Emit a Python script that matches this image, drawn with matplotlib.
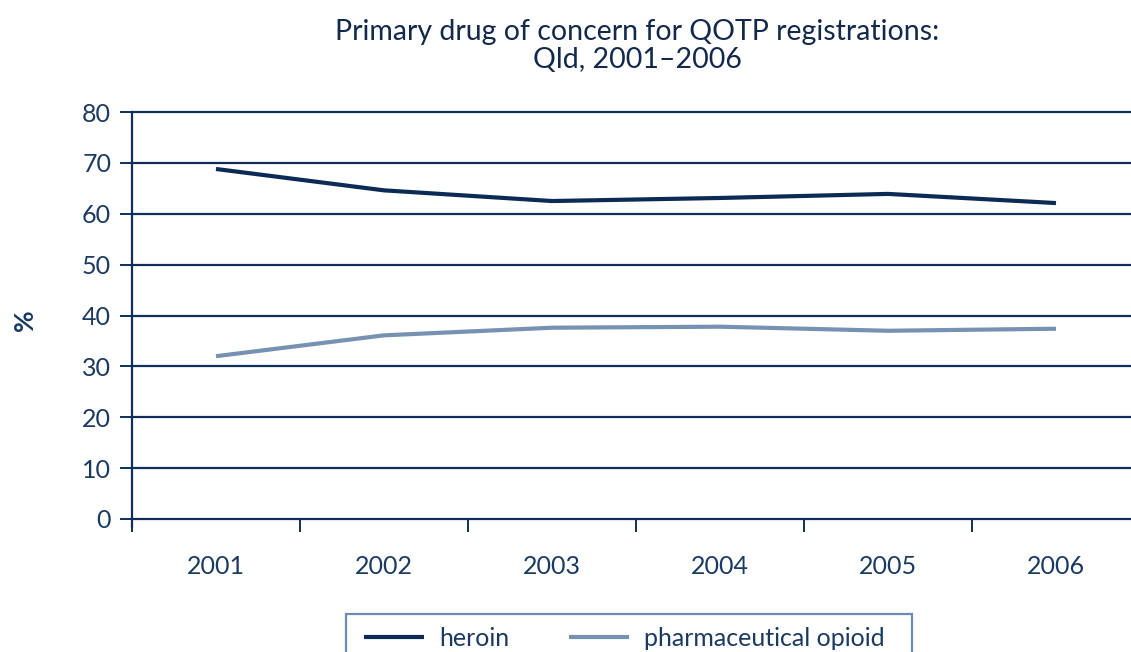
import matplotlib
matplotlib.use("Agg")
import matplotlib.pyplot as plt
from matplotlib.patches import Rectangle
import numpy as np

years = ["2001", "2002", "2003", "2004", "2005", "2006"]
heroin = [68.8, 64.6, 62.5, 63.1, 63.9, 62.1]
pharma = [32.0, 36.1, 37.6, 37.8, 37.0, 37.4]
yticks = [0, 10, 20, 30, 40, 50, 60, 70, 80]

NAVY = "#0f2f5a"
TEXT = "#1a3a62"
PHARMA = "#7791b3"
FONT = ["Lato", "DejaVu Sans"]

W, H = 1131, 652
fig = plt.figure(figsize=(W / 100, H / 100), dpi=100)
left, right, top, bottom = 132, 1140, 112, 519
ax = fig.add_axes([left / W, 1 - bottom / H, (right - left) / W, (bottom - top) / H])

x = np.arange(len(years))
ax.plot(x, heroin, color="#0b2a55", lw=3.0, solid_capstyle="butt", label="heroin", zorder=3)
ax.plot(x, pharma, color=PHARMA, lw=3.0, solid_capstyle="butt", label="pharmaceutical opioid", zorder=3)

ax.set_xlim(-0.5, len(years) - 0.5)
ax.set_ylim(0, 80)
ax.set_yticks(yticks)
ax.set_yticklabels([str(v) for v in yticks], fontsize=18, color=TEXT, family=FONT)
for v in yticks:
    ax.axhline(v, color=NAVY, lw=1.6, zorder=1, clip_on=False)

ax.set_xticks(np.arange(len(years) + 1) - 0.5, minor=False)
ax.set_xticklabels([""] * (len(years) + 1))
ax.set_xticks(x, minor=True)
ax.set_xticklabels(years, minor=True, fontsize=18, color=TEXT, family=FONT)
ax.tick_params(axis="x", which="major", length=9, width=1.4, color=NAVY, direction="out")
ax.tick_params(axis="x", which="minor", length=0, pad=26)
ax.tick_params(axis="y", length=9, width=1.4, color=NAVY, direction="out", pad=6)

for s in ["top", "right", "bottom"]:
    ax.spines[s].set_visible(False)
ax.spines["left"].set_color(NAVY)
ax.spines["left"].set_linewidth(1.6)
ax.spines["left"].set_bounds(-1.6, 80)

fig.text(25 / W, 1 - 320 / H, "%", rotation=90, ha="center", va="center",
         fontsize=19, color=TEXT, family=FONT, fontweight="bold")

fig.text(637 / W, 1 - 46 / H, "Primary drug of concern for QOTP registrations:\nQld, 2001\u20132006",
         ha="center", va="center", fontsize=20.5, color="#13294b", family=FONT, linespacing=1.05)

fig.patches.append(Rectangle((346 / W, -0.05), (912 - 346) / W, 0.05 + (652 - 614) / H,
                             transform=fig.transFigure, fill=False, edgecolor="#6d8bb0",
                             linewidth=1.6, clip_on=False))
leg = fig.legend(loc="center left", bbox_to_anchor=(364 / W, 1 - 638 / H), ncol=2,
                 frameon=False, prop={"family": FONT, "size": 18},
                 handlelength=2.4, handletextpad=0.6, columnspacing=2.4, borderpad=0.0,
                 borderaxespad=0)
for t in leg.get_texts():
    t.set_color(TEXT)

fig.savefig("out.png", dpi=100)
